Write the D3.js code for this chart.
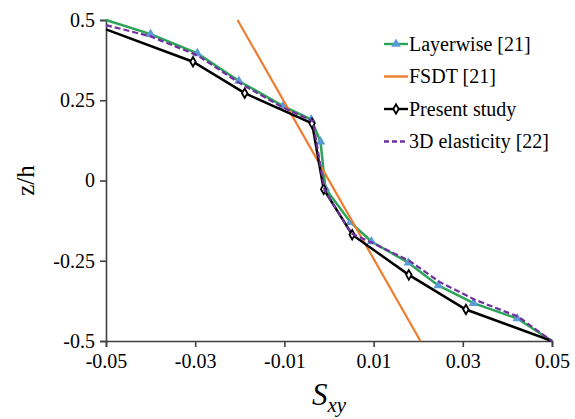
<!DOCTYPE html>
<html>
<head>
<meta charset="utf-8">
<script src="https://cdn.jsdelivr.net/npm/d3@7.9.0/dist/d3.min.js"></script>
<style>
  body { margin: 0; background: #fff; }
  svg text { font-family: 'Liberation Serif', 'Times New Roman', Times, 'DejaVu Serif', serif; }
</style>
</head>
<body>
<svg id="chart" width="575" height="419"></svg>
<script>
// series values: [S_xy, z/h]
const layerwise = [
  [-0.05, 0.5], [-0.040, 0.456], [-0.0295, 0.396], [-0.0202, 0.31], [-0.0103, 0.232],
  [-0.0040, 0.19], [-0.0019, 0.121], [-0.0008, -0.025], [0.0048, -0.13], [0.0095, -0.19],
  [0.0178, -0.256], [0.0245, -0.327], [0.0324, -0.382], [0.0422, -0.43], [0.05, -0.5]
];
const fsdt = [[-0.0205, 0.5], [0.0205, -0.5]];
const present = [
  [-0.05, 0.471], [-0.0305, 0.37], [-0.0189, 0.272], [-0.0038, 0.178], [-0.0012, -0.027],
  [0.0052, -0.169], [0.0179, -0.294], [0.0307, -0.402], [0.05, -0.5]
];
const elasticity = [
  [-0.05, 0.484], [-0.040, 0.449], [-0.0295, 0.39], [-0.0202, 0.305], [-0.0104, 0.228],
  [-0.0036, 0.185], [-0.0010, -0.03], [0.0050, -0.165], [0.0098, -0.195], [0.018, -0.25],
  [0.0248, -0.316], [0.0328, -0.372], [0.0424, -0.424], [0.05, -0.5]
];
const xTicks = [-0.05, -0.03, -0.01, 0.01, 0.03, 0.05];
const xTickLabels = ['-0.05', '-0.03', '-0.01', '0.01', '0.03', '0.05'];
const yTicks = [0.5, 0.25, 0, -0.25, -0.5];
const yTickLabels = ['0.5', '0.25', '0', '-0.25', '-0.5'];
const legendNames = ['Layerwise [21]', 'FSDT [21]', 'Present study', '3D elasticity [22]'];

const serif = "'Liberation Serif', 'Times New Roman', Times, 'DejaVu Serif', serif";

const svg = d3.select('#chart');
const x = d3.scaleLinear().domain([-0.05, 0.05]).range([106, 552]);
const y = d3.scaleLinear().domain([-0.5, 0.5]).range([341, 20]);

const axisColor = '#404040';

// axes
const xAxis = svg.append('g')
  .attr('transform', `translate(0,${y(-0.5)})`)
  .call(d3.axisBottom(x).tickValues(xTicks).tickSize(6).tickPadding(7)
    .tickFormat((d, i) => xTickLabels[i]));
const yAxis = svg.append('g')
  .attr('transform', `translate(${x(-0.05)},0)`)
  .call(d3.axisLeft(y).tickValues(yTicks).tickSize(6).tickPadding(5)
    .tickFormat((d, i) => yTickLabels[i]));
[xAxis, yAxis].forEach(g => {
  g.attr('font-family', serif).attr('font-size', 20);
  g.select('.domain').attr('stroke', axisColor).attr('stroke-width', 1.6);
  g.selectAll('.tick line').attr('stroke', axisColor).attr('stroke-width', 1.6);
  g.selectAll('.tick text').attr('fill', '#000');
});

// axis titles
svg.append('text')
  .attr('transform', `translate(34,${(y(0.5) + y(-0.5)) / 2}) rotate(-90)`)
  .attr('text-anchor', 'middle')
  .attr('font-family', serif).attr('font-size', 25)
  .text('z/h');
const xt = svg.append('text')
  .attr('x', 329).attr('y', 405)
  .attr('text-anchor', 'middle')
  .attr('font-family', serif).attr('font-size', 31).attr('font-style', 'italic');
xt.append('tspan').text('S');
xt.append('tspan').attr('dy', 7).attr('font-size', 21).text('xy');

const line = d3.line().x(d => x(d[0])).y(d => y(d[1]));

const green = '#2aa457', blueMark = '#5b9bd5', orange = '#ed7d31', purple = '#7030a0';

svg.append('path').datum(layerwise).attr('d', line)
  .attr('fill', 'none').attr('stroke', green).attr('stroke-width', 2.5);
svg.selectAll('.tri').data(layerwise.slice(1, -1)).join('path')
  .attr('class', 'tri')
  .attr('transform', d => `translate(${x(d[0])},${y(d[1])})`)
  .attr('d', d3.symbol(d3.symbolTriangle, 40))
  .attr('fill', blueMark);

svg.append('path').datum(fsdt).attr('d', line)
  .attr('fill', 'none').attr('stroke', orange).attr('stroke-width', 2.2);

svg.append('path').datum(present).attr('d', line)
  .attr('fill', 'none').attr('stroke', '#000').attr('stroke-width', 2.5);
svg.selectAll('.dia').data(present.slice(1, -1)).join('path')
  .attr('class', 'dia')
  .attr('transform', d => `translate(${x(d[0])},${y(d[1])})`)
  .attr('d', d3.symbol(d3.symbolDiamond, 26))
  .attr('fill', '#fff').attr('stroke', '#000').attr('stroke-width', 1.8);

svg.append('path').datum(elasticity).attr('d', line)
  .attr('fill', 'none').attr('stroke', purple).attr('stroke-width', 2.2)
  .attr('stroke-dasharray', '6,3');

// legend
const legendStyles = [
  { color: green, dash: null, mark: 'tri' },
  { color: orange, dash: null, mark: null },
  { color: '#000', dash: null, mark: 'dia' },
  { color: purple, dash: '5,3', mark: null }
];
const lg = svg.append('g').attr('transform', 'translate(384,44)');
legendNames.forEach((name, i) => {
  const s = legendStyles[i];
  const row = lg.append('g').attr('transform', `translate(0,${i * 32.5})`);
  row.append('line').attr('x1', 0).attr('x2', 24).attr('y1', 0).attr('y2', 0)
    .attr('stroke', s.color).attr('stroke-width', 2.4)
    .attr('stroke-dasharray', s.dash);
  if (s.mark === 'tri') {
    row.append('path').attr('transform', 'translate(12,0)')
      .attr('d', d3.symbol(d3.symbolTriangle, 40)).attr('fill', blueMark);
  } else if (s.mark === 'dia') {
    row.append('path').attr('transform', 'translate(12,0)')
      .attr('d', d3.symbol(d3.symbolDiamond, 26))
      .attr('fill', '#fff').attr('stroke', '#000').attr('stroke-width', 1.8);
  }
  row.append('text').attr('x', 25).attr('y', 6.5)
    .attr('font-family', serif).attr('font-size', 20).text(name);
});
</script>
</body>
</html>
